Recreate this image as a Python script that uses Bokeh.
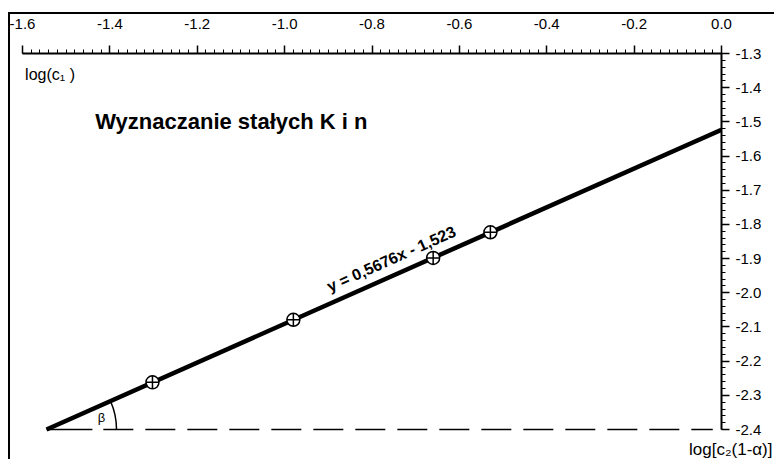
from bokeh.plotting import figure
from bokeh.models import Range1d, FixedTicker, PrintfTickFormatter, Title, InlineStyleSheet
from bokeh.core.properties import value
from bokeh.embed import file_html
from bokeh.resources import INLINE

# ---- data ----
x_ticks = [-1.6, -1.4, -1.2, -1.0, -0.8, -0.6, -0.4, -0.2, 0.0]
y_ticks = [-2.4, -2.3, -2.2, -2.1, -2.0, -1.9, -1.8, -1.7, -1.6, -1.5, -1.4, -1.3]
x_minor = [round(-1.6 + 0.02 * i, 2) for i in range(81)]
y_minor = [round(-2.4 + 0.02 * i, 2) for i in range(56)]

pts_x = [-1.3025, -0.980, -0.660, -0.529]
pts_y = [-2.262, -2.079, -1.898, -1.823]

fit_x = [-1.545, 0.0]
fit_y = [-2.4, -1.523]

base_y = [-2.4, -2.4]
base_solid_x = [-1.545, -1.440]
base_dash_x = [-1.415, -0.02]

equation = "y = 0,5676x - 1,523"
title_text = "Wyznaczanie stałych K i n"
y_name = "log(c\u2081 )"
x_name = "log[c\u2082(1-\u03b1)]"

FONT = "Liberation Sans"

border_css = InlineStyleSheet(css="""
:host { position: relative; }
:host::after {
  content: ""; position: absolute; left: 8px; top: 12px; right: 0; bottom: 0;
  border-left: 2px solid black; border-top: 2px solid black;
  pointer-events: none; z-index: 10;
}
""")

p = figure(width=774, height=459, x_range=Range1d(-1.6, 0.0), y_range=Range1d(-2.4263, -1.3),
           x_axis_location="above", y_axis_location="right",
           output_backend="svg", toolbar_location=None,
           min_border_left=22, min_border_right=53, min_border_top=53, min_border_bottom=19)
p.stylesheets = [border_css]
p.grid.visible = False
p.outline_line_color = None
p.background_fill_color = "white"
p.border_fill_color = "white"

for ax, ticks, minor in ((p.xaxis[0], x_ticks, x_minor), (p.yaxis[0], y_ticks, y_minor)):
    ax.ticker = FixedTicker(ticks=ticks, minor_ticks=minor)
    ax.formatter = PrintfTickFormatter(format="%.1f")
    ax.axis_line_width = 2
    ax.axis_line_color = "black"
    ax.major_tick_line_color = "black"
    ax.minor_tick_line_color = "black"
    ax.major_tick_line_width = 1.5
    ax.minor_tick_line_width = 1
    ax.major_tick_in = 0
    ax.minor_tick_in = 0
    ax.major_tick_out = 8
    ax.minor_tick_out = 4
    ax.major_label_text_font = FONT
    ax.major_label_text_font_size = "15px"
    ax.major_label_text_color = "black"

p.xaxis[0].major_label_standoff = 17
p.yaxis[0].major_label_standoff = 6
p.yaxis[0].bounds = (-2.4, -1.3)

# base line with angle
p.line(base_solid_x, base_y, line_color="black", line_width=1.5)
p.line(base_dash_x, base_y, line_color="black", line_width=1.5, line_dash="30 12")
p.arc(x=[fit_x[0]], y=[fit_y[0]], radius=70, radius_units="screen",
      start_angle=0, end_angle=0.42, line_color="black", line_width=1.5)
p.text(x=[-1.419], y=[-2.366], text=["β"], text_align="center", text_baseline="middle",
       text_font=value(FONT), text_font_size="13px", text_color="black")

# fit line and points
p.line(fit_x, fit_y, line_color="black", line_width=4.5)
p.scatter(pts_x, pts_y, marker="circle_cross", size=13, line_color="black",
          fill_color="white", line_width=1.5)

p.text(x=[-0.7556], y=[-1.9009], text=[equation], angle=0.421, text_align="center",
       text_baseline="middle", text_font=value(FONT), text_font_style="bold",
       text_font_size="16px", text_color="black")

p.text(x=[-1.4336], y=[-1.500], text=[title_text], text_align="left", text_baseline="middle",
       text_font=value(FONT), text_font_style="bold", text_font_size="22px", text_color="black")

p.text(x=[-1.594], y=[-1.361], text=[y_name], text_align="left", text_baseline="middle",
       text_font=value(FONT), text_font_size="16px", text_color="black")

p.add_layout(Title(text=x_name, align="right", offset=-51, standoff=0,
                   vertical_align="middle", text_font=FONT, text_font_style="normal",
                   text_font_size="17px", text_color="black"), "below")

open("out.html", "w").write(file_html(p, INLINE))
